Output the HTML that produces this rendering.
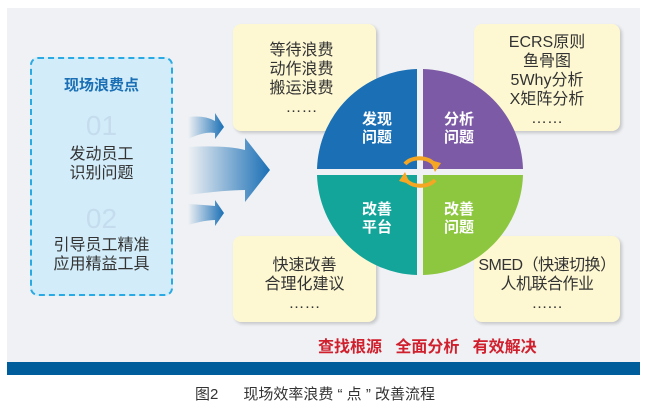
<!DOCTYPE html><html><head><meta charset="utf-8"><style>
body{margin:0;width:646px;height:420px;background:#fff;position:relative;overflow:hidden;font-family:"Liberation Sans","Noto Sans CJK SC",sans-serif}
.a{position:absolute}
.box{position:absolute;background:#fdf8d2;border-radius:8px;box-shadow:2px 2px 3px rgba(0,0,0,.18);text-align:center;color:#333;font-size:16px;line-height:19px}
.q{position:absolute;color:#fff;font-weight:bold;font-size:15px;line-height:18px;text-align:center}
</style></head><body>
<div class="a" style="left:7px;top:8px;width:633px;height:354px;background:#eff1f4"></div>
<div class="a" style="left:7px;top:362px;width:633px;height:13px;background:#005d9c"></div>
<div class="a" style="left:30px;top:57px;width:139px;height:235px;border:2px dashed #2aa9e3;border-radius:8px;background:#d2ecf9"></div>
<div class="a" style="left:30px;top:74px;width:143px;text-align:center;color:#1a6fb5;font-weight:bold;font-size:15px">现场浪费点</div>
<div class="a" style="left:30px;top:110px;width:143px;text-align:center;color:#c5dcee;font-size:28px">01</div>
<div class="a" style="left:30px;top:145px;width:143px;text-align:center;color:#333;font-size:16px;line-height:19px">发动员工<br>识别问题</div>
<div class="a" style="left:30px;top:203px;width:143px;text-align:center;color:#c5dcee;font-size:28px">02</div>
<div class="a" style="left:30px;top:236px;width:143px;text-align:center;color:#333;font-size:16px;line-height:19px">引导员工精准<br>应用精益工具</div>
<svg class="a" style="left:180px;top:105px" width="100" height="130">
<defs><linearGradient id="g"><stop offset="0" stop-color="#1a6fb5" stop-opacity="0"/><stop offset="1" stop-color="#1a6fb5"/></linearGradient></defs>
<path d="M8 12 Q25 10 35 16 L35 8 L44 22 L35 34 L35 28 Q25 26 8 34Z" fill="url(#g)"/>
<path d="M8 42 Q45 40 65 45 L65 33 L90 65 L65 97 L65 85 Q45 85 8 90Z" fill="url(#g)"/>
<path d="M8 99 Q25 100 35 101 L35 95 L44 108 L35 121 L35 115 Q25 115 8 120Z" fill="url(#g)"/>
</svg>
<div class="box" style="left:233px;top:24px;width:143px;height:107px"><div style="padding-top:17px;padding-right:6px">等待浪费<br>动作浪费<br>搬运浪费<br>……</div></div>
<div class="box" style="left:474px;top:24px;width:146px;height:107px"><div style="padding-top:9px">ECRS原则<br>鱼骨图<br>5Why分析<br>X矩阵分析<br>……</div></div>
<div class="box" style="left:233px;top:236px;width:143px;height:86px"><div style="padding-top:20px">快速改善<br>合理化建议<br>……</div></div>
<div class="box" style="left:474px;top:236px;width:146px;height:86px"><div style="padding-top:20px;letter-spacing:-0.5px">SMED（快速切换）<br>人机联合作业<br>……</div></div>
<svg class="a" style="left:310px;top:62px" width="220" height="220">
<g transform="translate(110,110)">
<path d="M-3 -3 L-3 -103 A103 103 0 0 0 -103 -3Z" fill="#1a6fb5"/>
<path d="M3 -3 L3 -103 A103 103 0 0 1 103 -3Z" fill="#7d5aa6"/>
<path d="M-3 3 L-103 3 A103 103 0 0 0 -3 103Z" fill="#13a59a"/>
<path d="M3 3 L103 3 A103 103 0 0 1 3 103Z" fill="#8dc63f"/>
<path d="M-15 -8 A17 12 0 0 1 14 -8" stroke="#f5a623" stroke-width="4" fill="none"/>
<path d="M10 -12 L21 -9 L15 0Z" fill="#f5a623"/>
<path d="M15 8 A17 12 0 0 1 -14 8" stroke="#f5a623" stroke-width="4" fill="none"/>
<path d="M-10 12 L-21 9 L-15 0Z" fill="#f5a623"/>
</g></svg>
<div class="q" style="left:352px;top:111px;width:50px">发现<br>问题</div>
<div class="q" style="left:434px;top:111px;width:50px">分析<br>问题</div>
<div class="q" style="left:352px;top:201px;width:50px">改善<br>平台</div>
<div class="q" style="left:434px;top:201px;width:50px">改善<br>问题</div>
<div class="a" style="left:318px;top:333px;color:#d0202e;font-weight:bold;font-size:16px;white-space:pre">查找根源   全面分析   有效解决</div>
<div class="a" style="left:195px;top:383px;color:#333;font-size:15px;white-space:pre">图2      现场效率浪费 “ 点 ” 改善流程</div>
</body></html>
